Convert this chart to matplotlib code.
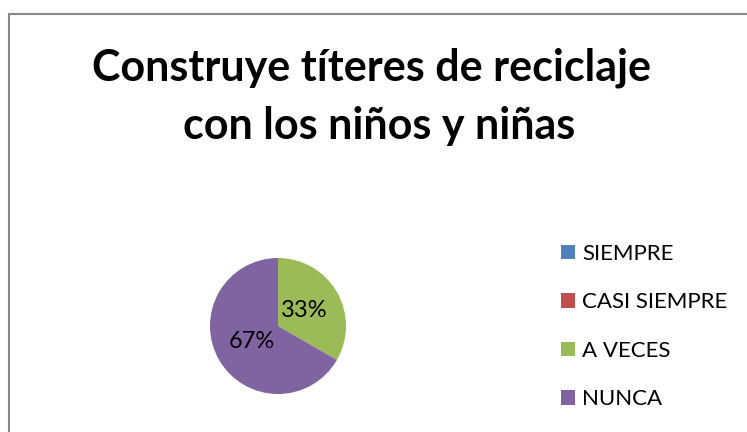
import matplotlib
matplotlib.use('Agg')
import matplotlib.pyplot as plt
from matplotlib.patches import Rectangle, Patch

# data
categories = ['SIEMPRE', 'CASI SIEMPRE', 'A VECES', 'NUNCA']
values = [0, 0, 1, 2]
colors = ['#4F81BD', '#C0504D', '#9BBB59', '#8064A2']
title_lines = ['Construye títeres de reciclaje', 'con los niños y niñas']

W, H = 747, 432
plt.rcParams['font.family'] = ['Lato', 'DejaVu Sans']

fig = plt.figure(figsize=(W / 100, H / 100), dpi=100)

# grey frame of the chart area (right and bottom edges fall outside)
fig.patches.append(Rectangle((9 / W, -0.1), 1.2, 1.1 - 14 / H, transform=fig.transFigure,
                             fill=False, edgecolor='#888888', linewidth=1.5))

# title, two lines
fig.text(372 / W, 1 - 81 / H, title_lines[0], ha='center', va='baseline',
         fontsize=31, fontweight='bold')
fig.text(379 / W, 1 - 139 / H, title_lines[1], ha='center', va='baseline',
         fontsize=31, fontweight='bold')

# pie
cx, cy, r = 278, 326, 68
ax = fig.add_axes([(cx - r) / W, (H - cy - r) / H, 2 * r / W, 2 * r / H])


def pct(p):
    return '%d%%' % round(p) if p > 0 else ''


wedges, texts, autotexts = ax.pie(values, colors=colors, startangle=90, counterclock=False,
                                  autopct=pct, pctdistance=0.45,
                                  wedgeprops={'linewidth': 0})
for t in autotexts:
    t.set_fontsize(17)
ax.set_xlim(-1, 1)
ax.set_ylim(-1, 1)
ax.set_aspect('equal')
ax.axis('off')

# legend
handles = [Patch(facecolor=c, edgecolor='none') for c in colors]
fig.legend(handles, categories, loc='upper left', bbox_to_anchor=(552 / W, 1 - 235 / H),
           frameon=False, fontsize=16, handlelength=0.62, handleheight=0.62,
           handletextpad=0.35, labelspacing=1.28, borderaxespad=0)

plt.savefig('out.png', dpi=100)
